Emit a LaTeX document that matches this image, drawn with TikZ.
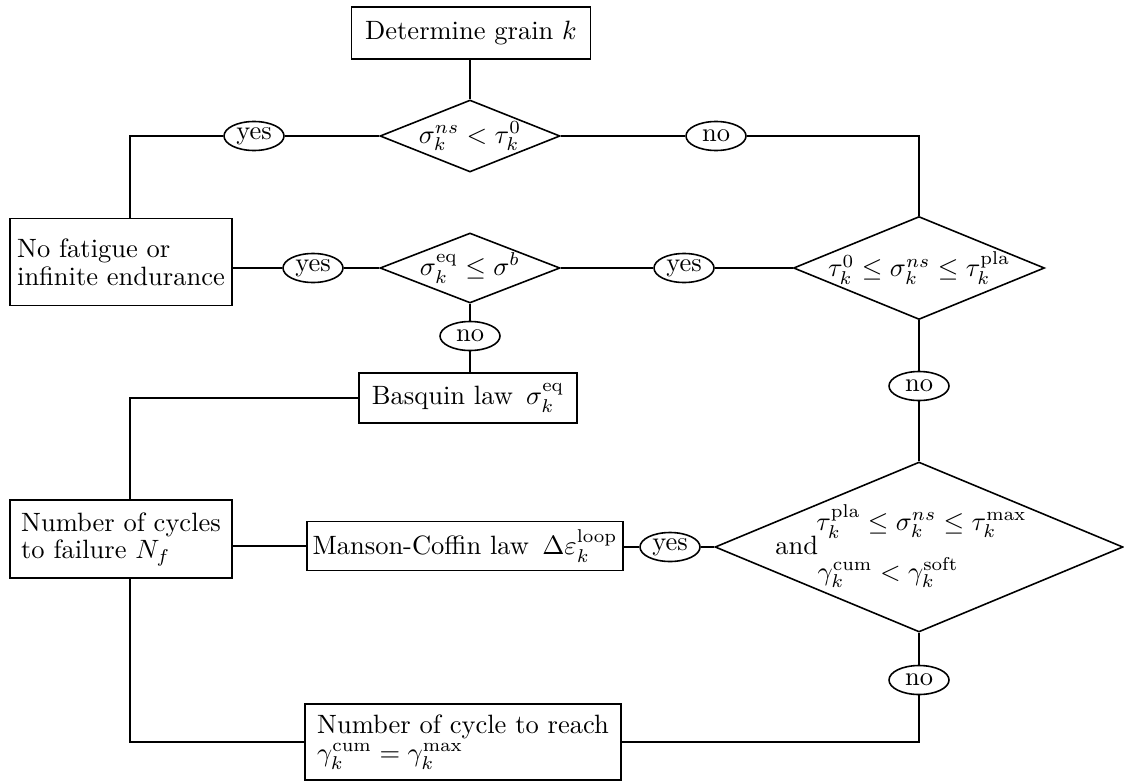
\documentclass[tikz,border=0pt]{standalone}
\usetikzlibrary{shapes.geometric}
\def\pxu{0.37736pt}
\begin{document}
\begin{tikzpicture}[x=0.37736pt, y=-0.37736pt, line width=0.6pt,
  box/.style={draw, rectangle, inner sep=0pt},
  dia/.style={draw, diamond, aspect=1, inner sep=0pt},
  lab/.style={draw, ellipse, inner sep=0pt, minimum width=60*\pxu, minimum height=29*\pxu}]
\useasboundingbox (0,0) rectangle (1124,781);
% nodes
\node[box, minimum width=239*\pxu, minimum height=52*\pxu] (top) at (471,33) {Determine grain $k$};
\node[dia, minimum width=180*\pxu, minimum height=72*\pxu] (d1) at (470,136) {\makebox[0pt]{$\sigma_k^{ns} < \tau_k^0$}};
\node[lab] (yes1) at (254,136) {yes};
\node[lab] (no1) at (716,136) {no};
\node[box, minimum width=222*\pxu, minimum height=87*\pxu, align=left] (nf) at (121,262) {No fatigue or\\[-1.5pt] infinite endurance};
\node[dia, minimum width=180*\pxu, minimum height=70*\pxu] (d2) at (470,268) {\makebox[0pt]{$\sigma_k^{\mathrm{eq}} \le \sigma^b$}};
\node[lab] (yes2) at (313,268) {yes};
\node[dia, minimum width=251*\pxu, minimum height=103*\pxu] (d3) at (919,268) {\makebox[0pt]{$\tau_k^0 \le \sigma_k^{ns} \le \tau_k^{\mathrm{pla}}$}};
\node[lab] (yes3) at (684,268) {yes};
\node[lab] (no2) at (470,336) {no};
\node[box, minimum width=218*\pxu, minimum height=50*\pxu] (bq) at (468,398) {Basquin law~\,$\sigma_k^{\mathrm{eq}}$};
\node[lab] (no3) at (919,386) {no};
\node[dia, minimum width=408*\pxu, minimum height=170*\pxu] (d4) at (919,547) {\makebox[0pt]{\begin{tabular}{@{}l@{}}\hspace*{15.5pt}$\tau_k^{\mathrm{pla}} \le \sigma_k^{ns} \le \tau_k^{\max}$\\[-2.6pt] and\\[-2.6pt] \hspace*{16pt}$\gamma_k^{\mathrm{cum}} < \gamma_k^{\mathrm{soft}}$\end{tabular}\hspace*{13.6pt}}};
\node[box, minimum width=316*\pxu, minimum height=49*\pxu] (mc) at (465,546) {Manson-Coffin law~\,$\Delta\varepsilon_k^{\mathrm{loop}}$};
\node[lab] (yes4) at (670,547) {yes};
\node[box, minimum width=222*\pxu, minimum height=78*\pxu, align=left] (nc) at (121,539) {Number of cycles\\[-1.8pt] to failure $N_f$};
\node[lab] (no4) at (919,680) {no};
\node[box, minimum width=316*\pxu, minimum height=76*\pxu, align=left] (fin) at (463,742) {Number of cycle to reach\\[-1.5pt] $\gamma_k^{\mathrm{cum}} = \gamma_k^{\mathrm{max}}$};
% corner points
\coordinate (c1) at (130,136);
\coordinate (c2) at (919,136);
\coordinate (c3) at (130,398);
\coordinate (c4) at (919,742);
\coordinate (c5) at (130,742);
% connectors
\draw (d1.north |- top.south) -- (d1.north);
\draw (d1.west) -- (yes1) -- (c1) -- (c1 |- nf.north);
\draw (d1.east) -- (no1) -- (c2) -- (d3.north);
\draw (d2.west) -- (yes2) -- (yes2 -| nf.east);
\draw (d2.east) -- (yes3) -- (d3.west);
\draw (d2.south) -- (no2) -- (no2 |- bq.north);
\draw (bq.west) -- (c3) -- (c3 |- nc.north);
\draw (d3.south) -- (no3) -- (d4.north);
\draw (d4.west) -- (yes4) -- (yes4 -| mc.east);
\draw (mc.west) -- (mc.west -| nc.east);
\draw (d4.south) -- (no4) -- (c4) -- (c4 -| fin.east);
\draw (c5 |- nc.south) -- (c5) -- (fin.west);
\end{tikzpicture}
\end{document}
